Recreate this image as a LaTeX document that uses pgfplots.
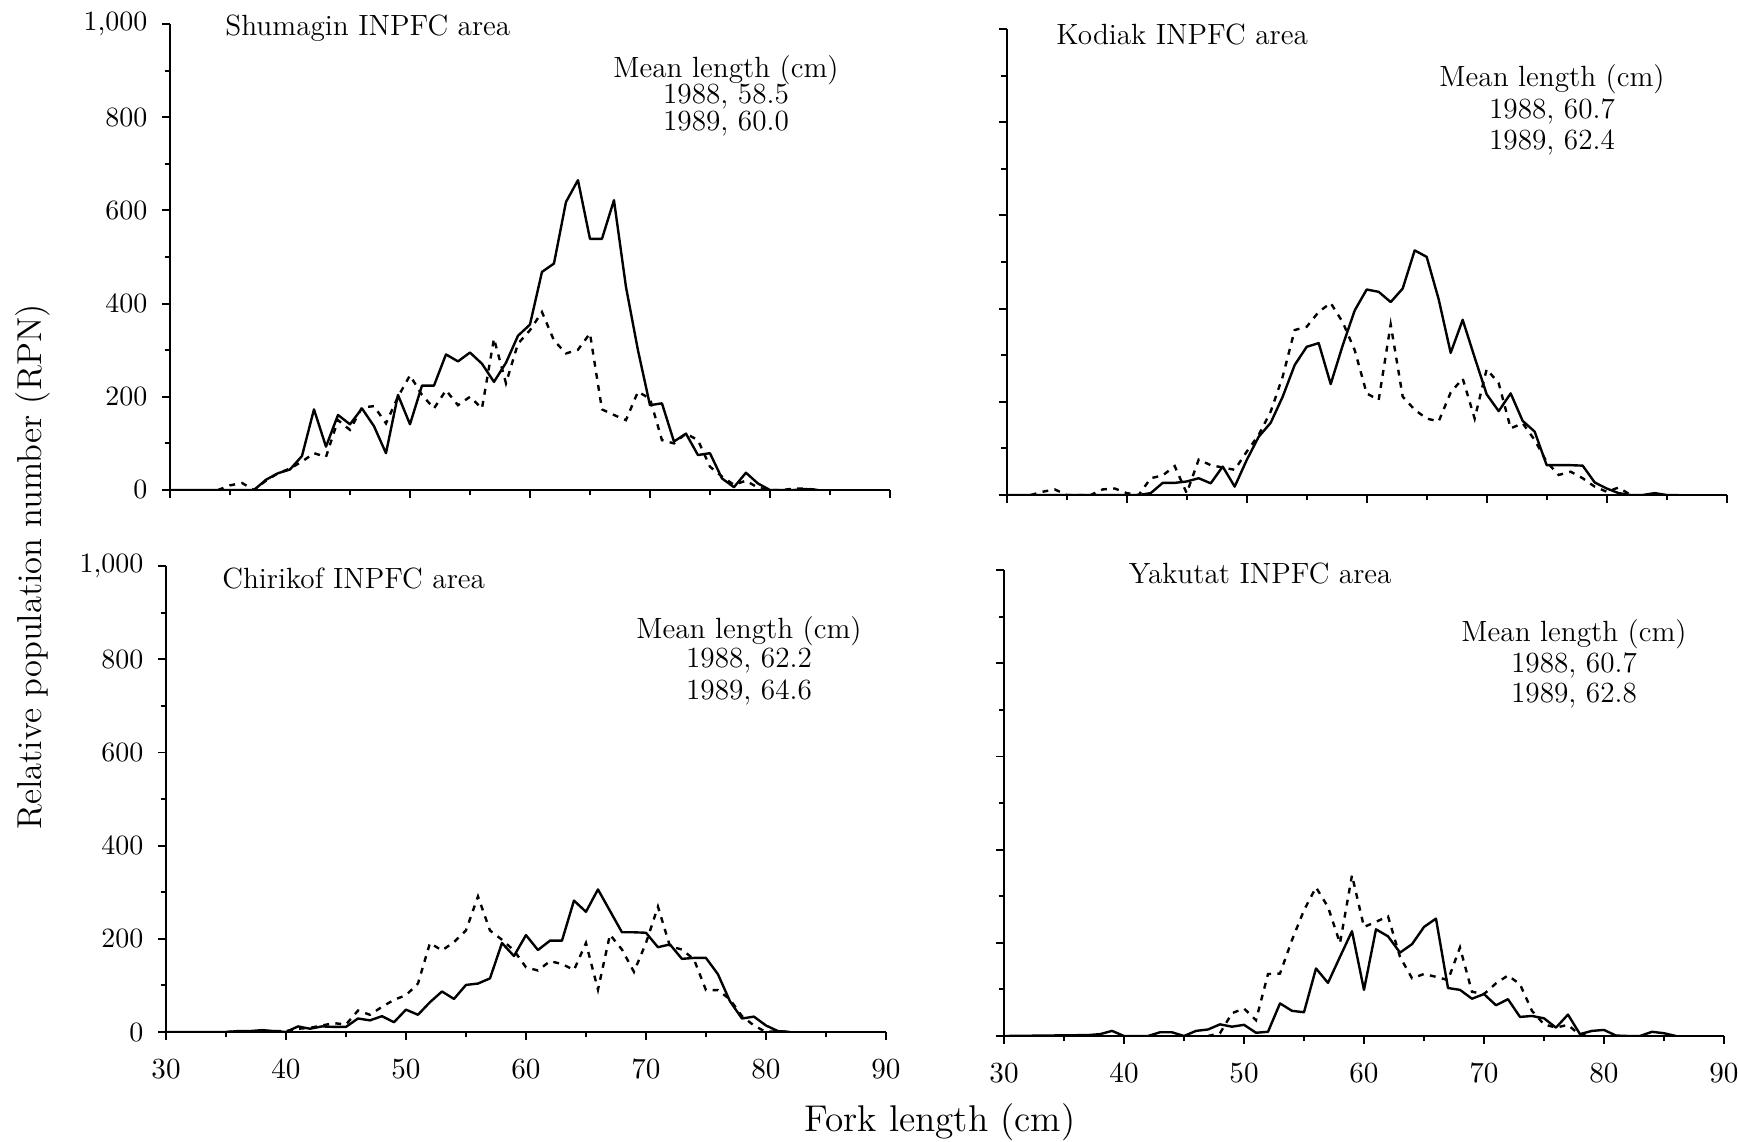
\documentclass[border=0pt]{standalone}
\usepackage{pgfplots}
\pgfplotsset{compat=1.18}
% 1 px of the reference = 0.376pt
\def\u{0.376pt}
\pgfplotsset{
  rpn/.style={
    anchor=south west,
    scale only axis, width=270.7pt, height=175.2pt,
    xmin=30, xmax=90, ymin=0, ymax=1000,
    axis x line*=bottom, axis y line*=left,
    axis line style={line width=0.8pt, -},
    xtick={30,40,...,90}, minor x tick num=1,
    ytick={0,200,...,1000}, minor y tick num=1,
    tick align=outside, major tick length=3pt, minor tick length=2pt,
    every tick/.style={black, line width=0.7pt},
    tick label style={font=\fontsize{10.5}{12}\selectfont},
    yticklabel style={xshift=-2pt},
    xticklabel style={yshift=-4pt},
  },
  leftlabels/.style={yticklabels={0,200,400,600,800,{1,000}}},
  nox/.style={xticklabels={,,,,,,,}},
  noy/.style={yticklabels={,,,,,,,}},
  s88/.style={black, line width=0.9pt, line join=round},
  s89/.style={black, line width=0.9pt, dash pattern=on 2.2pt off 2.4pt},
}
\newcommand{\lbl}{\fontsize{11}{13}\selectfont}
\begin{document}
\begin{tikzpicture}
\useasboundingbox (0,0) rectangle (653.49pt,429.02pt);

% Shumagin
\begin{axis}[rpn, leftlabels, nox, at={({170*\u},{651*\u})}]
\addplot[s88] coordinates {(30,0)(37,0)(38,22)(39,36)(40,44)(41,73)(42,173)(43,93)(44,161)(45,141)(46,175)(47,137)(48,79)(49,204)(50,141)(51,224)(52,224)(53,291)(54,276)(55,295)(56,271)(57,232)(58,273)(59,331)(60,355)(61,468)(62,486)(63,618)(64,665)(65,539)(66,539)(67,622)(68,436)(69,300)(70,182)(71,186)(72,104)(73,121)(74,75)(75,79)(76,25)(77,6)(78,37)(79,14)(80,0)(82,0)(83,2)(84,0)};
\addplot[s89] coordinates {(34,0)(35,10)(36,15)(37,0)(38,20)(39,36)(40,46)(41,61)(42,79)(43,71)(44,150)(45,129)(46,177)(47,180)(48,143)(49,200)(50,246)(51,204)(52,175)(53,214)(54,182)(55,200)(56,175)(57,325)(58,229)(59,314)(60,343)(61,382)(62,321)(63,293)(64,301)(65,336)(66,173)(67,161)(68,150)(69,211)(70,196)(71,107)(72,100)(73,121)(74,107)(75,50)(76,29)(77,11)(78,20)(79,5)(80,0)(81,0)(82,3)(83,3)(84,0)};
\end{axis}

% Kodiak
\begin{axis}[rpn, nox, noy, at={({1006.7*\u},{646*\u})}]
\addplot[s88] coordinates {(30,0)(41,0)(42,4)(43,26)(44,26)(45,29)(46,36)(47,25)(48,61)(49,18)(50,75)(51,125)(52,155)(53,211)(54,279)(55,318)(56,326)(57,238)(58,321)(59,396)(60,441)(61,436)(62,414)(63,443)(64,525)(65,511)(66,420)(67,305)(68,376)(69,295)(70,216)(71,180)(72,218)(73,159)(74,136)(75,64)(76,64)(77,64)(78,63)(79,27)(80,14)(81,4)(82,0)(83,0)(84,4)(85,0)(86,0)};
\addplot[s89] coordinates {(32,0)(33,7)(34,12)(35,0)(37,0)(38,12)(39,14)(40,4)(41,0)(42,36)(43,42)(44,62)(45,4)(46,76)(47,64)(48,59)(49,54)(50,93)(51,129)(52,179)(53,254)(54,354)(55,361)(56,393)(57,412)(58,371)(59,311)(60,218)(61,204)(62,366)(63,211)(64,183)(65,164)(66,158)(67,220)(68,250)(69,164)(70,270)(71,240)(72,143)(73,154)(74,118)(75,71)(76,43)(77,50)(78,36)(79,18)(80,7)(81,16)(82,0)};
\end{axis}

% Chirikof
\begin{axis}[rpn, leftlabels, at={({166*\u},{109*\u})}]
\addplot[s88] coordinates {(30,0)(35,0)(36,2)(37,2)(38,4)(39,2)(40,0)(41,12)(42,7)(43,12)(44,11)(45,11)(46,29)(47,25)(48,34)(49,21)(50,48)(51,37)(52,64)(53,87)(54,71)(55,101)(56,104)(57,115)(58,191)(59,163)(60,208)(61,176)(62,196)(63,196)(64,282)(65,258)(66,306)(67,260)(68,214)(69,214)(70,213)(71,182)(72,188)(73,157)(74,159)(75,159)(76,124)(77,66)(78,29)(79,33)(80,14)(81,2)(82,0)};
\addplot[s89] coordinates {(35,0)(38,2)(40,2)(41,7)(42,9)(43,14)(44,19)(45,16)(46,46)(47,37)(48,54)(49,69)(50,79)(51,104)(52,191)(53,175)(54,193)(55,218)(56,291)(57,218)(58,198)(59,175)(60,139)(61,132)(62,152)(63,146)(64,133)(65,191)(66,91)(67,209)(68,177)(69,129)(70,191)(71,269)(72,184)(73,177)(74,156)(75,90)(76,90)(77,70)(78,34)(79,14)(80,0)(81,2)(82,0)};
\end{axis}

% Yakutat
\begin{axis}[rpn, noy, at={({1004*\u},{105*\u})}]
\addplot[s88] coordinates {(30,0)(37,2)(38,4)(39,11)(40,0)(42,0)(43,8)(44,8)(45,0)(46,11)(47,14)(48,25)(49,20)(50,24)(51,7)(52,9)(53,70)(54,54)(55,51)(56,145)(57,114)(58,170)(59,225)(60,99)(61,229)(62,214)(63,179)(64,197)(65,234)(66,252)(67,103)(68,99)(69,80)(70,90)(71,66)(72,79)(73,41)(74,43)(75,38)(76,18)(77,46)(78,4)(79,11)(80,13)(81,1)(82,0)(83,0)(84,9)(85,6)(86,0)};
\addplot[s89] coordinates {(47,0)(48,6)(49,49)(50,59)(51,34)(52,133)(53,134)(54,206)(55,270)(56,319)(57,277)(58,199)(59,345)(60,234)(61,245)(62,257)(63,170)(64,124)(65,133)(66,127)(67,120)(68,190)(69,95)(70,90)(71,113)(72,130)(73,111)(74,54)(75,25)(76,18)(77,24)(78,2)(79,0)};
\end{axis}

% panel texts
\node[anchor=west,font=\lbl] at ({216*\u},{1113*\u}) {Shumagin INPFC area};
\node[font=\lbl] at ({726*\u},{1071*\u}) {Mean length (cm)};
\node[font=\lbl] at ({726*\u},{1044.6*\u}) {1988, 58.5};
\node[font=\lbl] at ({726*\u},{1017*\u}) {1989, 60.0};

\node[anchor=west,font=\lbl] at ({1047*\u},{1106.6*\u}) {Kodiak INPFC area};
\node[font=\lbl] at ({1552*\u},{1062*\u}) {Mean length (cm)};
\node[font=\lbl] at ({1552*\u},{1030*\u}) {1988, 60.7};
\node[font=\lbl] at ({1552*\u},{999*\u}) {1989, 62.4};

\node[anchor=west,font=\lbl] at ({213*\u},{562*\u}) {Chirikof INPFC area};
\node[font=\lbl] at ({749*\u},{510*\u}) {Mean length (cm)};
\node[font=\lbl] at ({749*\u},{480*\u}) {1988, 62.2};
\node[font=\lbl] at ({749*\u},{449*\u}) {1989, 64.6};

\node[anchor=west,font=\lbl] at ({1119.5*\u},{567*\u}) {Yakutat INPFC area};
\node[font=\lbl] at ({1574*\u},{507*\u}) {Mean length (cm)};
\node[font=\lbl] at ({1574*\u},{476*\u}) {1988, 60.7};
\node[font=\lbl] at ({1574*\u},{445*\u}) {1989, 62.8};

% shared axis titles
\node[font=\fontsize{14}{16}\selectfont] at ({940*\u},{19*\u}) {Fork length (cm)};
\node[rotate=90,font=\fontsize{13}{15}\selectfont] at ({33*\u},{574*\u}) {Relative population number (RPN)};
\end{tikzpicture}
\end{document}
